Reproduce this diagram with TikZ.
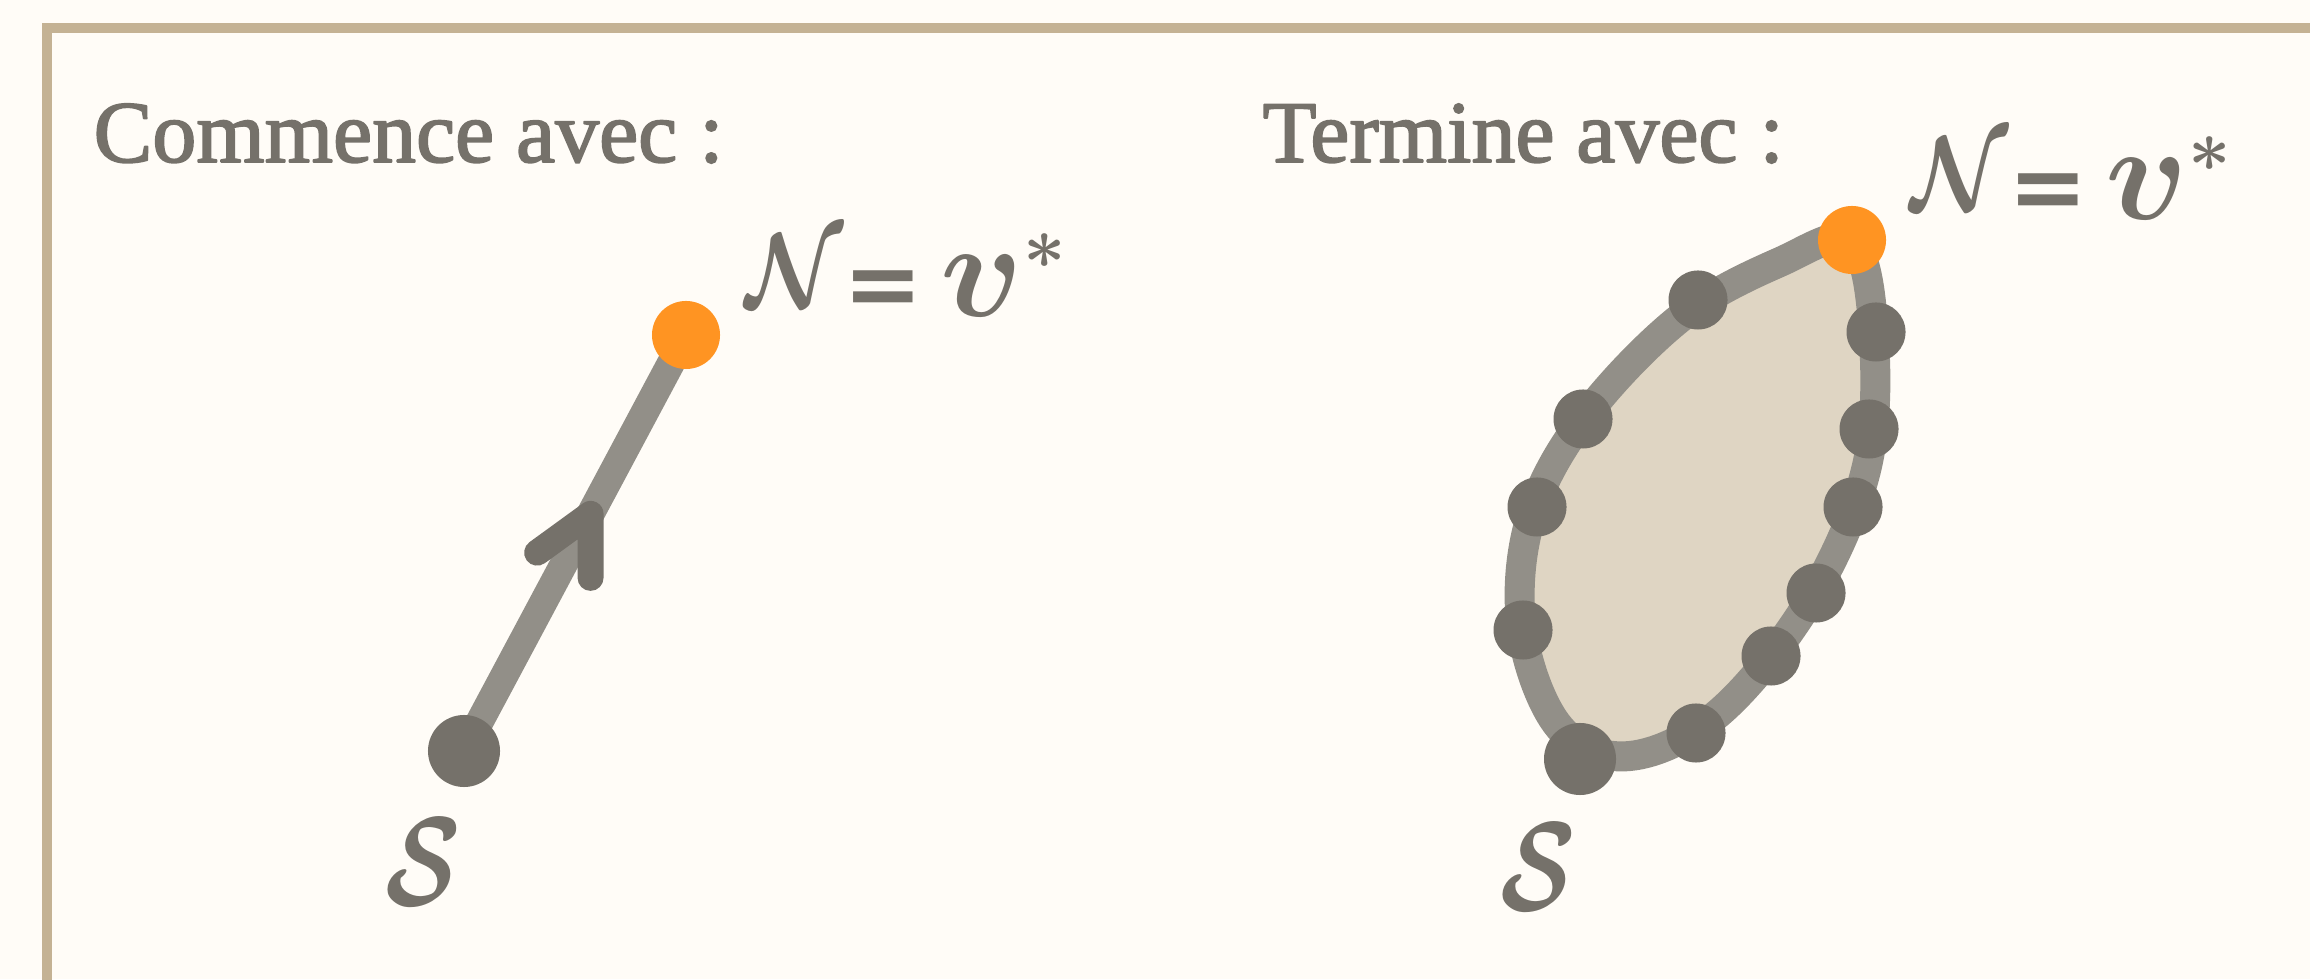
\RequirePackage{fix-cm}
\documentclass[tikz,border=0pt]{standalone}
\usepackage{amsmath}
\usepackage{fontspec}
\setmainfont{Liberation Serif}
\newfontfamily\titlefont{Liberation Serif}[FakeBold=2]
\newfontfamily\eqfont{DejaVu Sans Bold}
\usetikzlibrary{backgrounds, calc}

\definecolor{paper}{HTML}{FFFCF7}
\definecolor{bordertan}{HTML}{C4B294}
\definecolor{inkgray}{HTML}{75716A}
\definecolor{linegray}{HTML}{928F88}
\definecolor{sandfill}{HTML}{DFD5C3}
\definecolor{dotorange}{HTML}{FF9422}

\newcommand{\goalvalue}{\scalebox{0.85}[1]{$\boldsymbol{\mathcal{N}}$}%
  \raisebox{-0.1cm}{\eqfont\fontsize{27}{30}\selectfont =}\mkern3mu%
  {\raisebox{-0.1cm}{\scalebox{1.3}{$\boldsymbol{v}$}}}^{\boldsymbol{*}}}

\begin{document}
\begin{tikzpicture}[x=0.01cm, y=0.01cm, line cap=round, line join=round,
  point/.style={circle, fill=inkgray, inner sep=0pt, minimum size=5.9mm},
  source/.style={point, minimum size=7.2mm},
  goal/.style={circle, fill=dotorange, inner sep=0pt, minimum size=6.8mm},
  trail/.style={linegray, line width=2.8mm},
  title/.style={inkgray, anchor=base west, inner sep=0pt, font=\titlefont\fontsize{25}{30}\selectfont},
  maths/.style={inkgray, inner sep=0pt, font=\fontsize{30}{36}\selectfont}]
  % 1. fond et cadre
  \begin{scope}[on background layer]
    \fill[paper] (0,0) rectangle (2310,979);
  \end{scope}
  \useasboundingbox (0,0) rectangle (2310,979);
  \draw[bordertan, line width=1mm, line cap=butt, line join=miter] (47,-20) -- (47,951) -- (2330,951);

  % 2. titres
  \node[title] (t1) at (93,817) {Commence avec :};
  \node[title] (t2) at (1262,817) {Termine avec :};

  % 3. gauche : de S vers N
  \node[source] (s1) at (464,228) {};
  \node[goal] (n1) at (686,644) {};
  \begin{scope}[on background layer]
    \draw[trail] (s1.center) -- coordinate[pos=0.57] (tip) (n1.center);
  \end{scope}
  \draw[inkgray, line width=2.6mm] ($(tip)+(216:66)$) -- (tip) -- ($(tip)+(270:64)$);

  % 4. droite : contour ferme
  \draw[linegray, line width=3mm, fill=sandfill] plot[smooth cycle, tension=0.6] coordinates {
    (1852,737) (1874,639) (1866,509) (1810,379) (1720,267) (1630,223)
    (1560,251) (1522,349) (1530,459) (1583,560) (1680,661) (1780,717)};
  \foreach \i/\x/\y in {2/1698/679, 3/1876/647, 4/1583/560, 5/1869/550, 6/1537/472,
                        7/1853/472, 8/1816/386, 9/1523/349, 10/1771/323, 11/1696/246}
    \node[point] (d\i) at (\x,\y) {};
  \node[source] (s2) at (1580,220) {};
  \node[goal] (n2) at (1852,739) {};

  % 5. etiquettes
  \node[maths, anchor=base west] (eq1) at (745,672) {$\goalvalue$};
  \node[maths, anchor=base west] (eq2) at (1910,769) {$\goalvalue$};
  \node[maths, font=\fontsize{36}{40}\selectfont] (l1) at (423,117) {\scalebox{0.78}[1]{$\boldsymbol{\mathcal{S}}$}};
  \node[maths, font=\fontsize{36}{40}\selectfont] (l2) at (1538,112) {\scalebox{0.78}[1]{$\boldsymbol{\mathcal{S}}$}};
\end{tikzpicture}
\end{document}
